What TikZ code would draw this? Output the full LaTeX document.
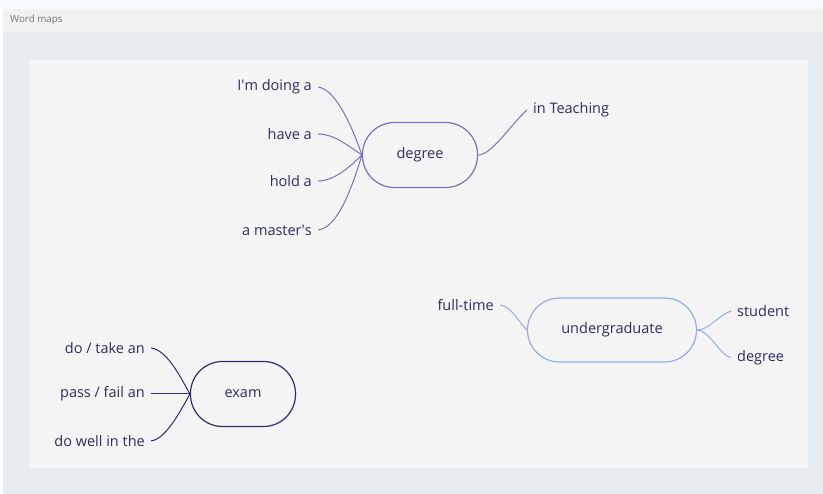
\documentclass[tikz,border=0pt]{standalone}
\usepackage{fontspec}
\setmainfont{Open Sans}
\usetikzlibrary{positioning}

\definecolor{pagetop}{HTML}{F7F9FB}
\definecolor{headbg}{HTML}{F2F2F2}
\definecolor{outerbg}{HTML}{E7ECF0}
\definecolor{innerbg}{HTML}{F4F4F4}
\definecolor{inktext}{HTML}{2F2D5C}
\definecolor{lavender}{HTML}{7D72B8}
\definecolor{skyblue}{HTML}{94AEE2}
\definecolor{navy}{HTML}{2D306D}

\tikzset{
  hub/.style={draw, line width=1.2pt, rounded corners=32pt, text=inktext,
    font=\fontsize{14.5}{17}\selectfont, minimum height=65pt},
  leafL/.style={anchor=east, inner xsep=6pt, inner ysep=0pt, text=inktext,
    font=\fontsize{14.5}{17}\selectfont},
  leafR/.style={anchor=west, inner xsep=6pt, inner ysep=0pt, text=inktext,
    font=\fontsize{14.5}{17}\selectfont},
  twig/.style={line width=1pt}
}

\begin{document}
\begin{tikzpicture}[x=1pt, y=-1pt]
\useasboundingbox (0,0) rectangle (823,494);

% frame of the page
\fill[pagetop] (0,0) rectangle (823,9);
\fill[headbg] (3,9) rectangle (823,32);
\fill[outerbg] (3,32) rectangle (823,494);
\fill[innerbg] (30,60) rectangle (808,468);
\node[anchor=west, inner sep=0pt, text=black!55, font=\fontsize{9.8}{11}\selectfont] (title) at (10,20) {Word maps};

% degree
\node[hub, draw=lavender, minimum width=115pt] (deg) at (420,155) {degree};
\node[leafL] (d1) at (318,87) {I\textquotesingle m doing a};
\node[leafL] (d2) at (318,134) {have a};
\node[leafL] (d3) at (318,181) {hold a};
\node[leafL] (d4) at (318,230) {a master\textquotesingle s};
\node[leafR] (d5) at (527,110) {in Teaching};
\draw[twig, lavender] (d1.east) .. controls +(16,2) and +(-12,-35) .. (deg.west);
\draw[twig, lavender] (d2.east) .. controls +(16,0) and +(-15,-10) .. (deg.west);
\draw[twig, lavender] (d3.east) .. controls +(16,0) and +(-12,12) .. (deg.west);
\draw[twig, lavender] (d4.east) .. controls +(18,-2) and +(-12,40) .. (deg.west);
\draw[twig, lavender] (deg.east) .. controls +(14,0) and +(-16,14) .. (d5.west);

% undergraduate
\node[hub, draw=skyblue, minimum width=169pt, minimum height=64pt] (ug) at (612,330) {undergraduate};
\node[leafL] (u1) at (500,305) {full-time};
\node[leafR] (u2) at (731,311) {student};
\node[leafR] (u3) at (731,358) {degree};
\draw[twig, skyblue] (u1.east) .. controls +(12,2) and +(-10,-10) .. (ug.west);
\draw[twig, skyblue] (ug.east) .. controls +(12,0) and +(-12,4) .. (u2.west);
\draw[twig, skyblue] (ug.east) .. controls +(12,0) and +(-12,-4) .. (u3.west);

% exam
\node[hub, draw=navy, minimum width=105pt] (ex) at (243,394) {exam};
\node[leafL] (e1) at (151,348) {do / take an};
\node[leafL] (e2) at (151,394) {pass / fail an};
\node[leafL] (e3) at (151,441) {do well in the};
\draw[twig, navy] (e1.east) .. controls +(15,2) and +(-12,-22) .. (ex.west);
\draw[twig, navy] (e2.east) -- (ex.west);
\draw[twig, navy] (e3.east) .. controls +(14,-2) and +(-12,22) .. (ex.west);
\end{tikzpicture}
\end{document}
